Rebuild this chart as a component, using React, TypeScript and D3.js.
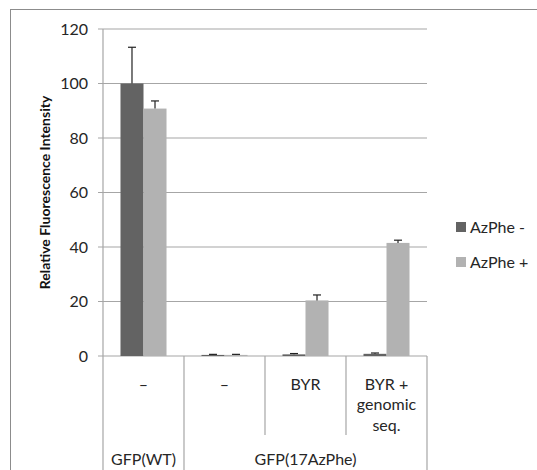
import React from 'react'
import * as d3 from 'd3'

// categories (inner level) and their groups (outer level)
const categoryLines = [['–'], ['–'], ['BYR'], ['BYR +', 'genomic', 'seq.']]
const groups = ['GFP(WT)', 'GFP(17AzPhe)']
const groupSpans = [[0, 0], [1, 3]]

const seriesNames = ['AzPhe -', 'AzPhe +']
const azpheMinus = [100, 0.4, 0.6, 0.8]
const azpheMinusErr = [13.3, 0.2, 0.3, 0.3]
const azphePlus = [90.8, 0.4, 20.4, 41.5]
const azphePlusErr = [2.8, 0.2, 2.0, 1.0]

const yTicks = [0, 20, 40, 60, 80, 100, 120]

const colors = ['#636363', '#b2b2b2']
const font = 'Lato, "Open Sans", sans-serif'

export default function App() {
  const left = 103, right = 427, top = 29, bottom = 356

  const x0 = d3.scaleBand<number>()
    .domain(d3.range(categoryLines.length))
    .range([left, right])
    .padding(0)

  const x1 = d3.scaleBand<number>()
    .domain([0, 1])
    .range([0, x0.bandwidth()])
    .paddingInner(0)
    .paddingOuter(0.76)

  const y = d3.scaleLinear().domain([0, 120]).range([bottom, top])

  const series = [
    { values: azpheMinus, errs: azpheMinusErr },
    { values: azphePlus, errs: azphePlusErr },
  ]

  const grid = '#a6a6a6'
  const textColor = '#262626'

  return (
    <svg width={537} height={470} style={{ position: 'absolute', left: 0, top: 0 }} fontFamily={font}>
      <rect x={0} y={0} width={537} height={470} fill="#fff" />
      <rect x={10.5} y={9.5} width={540} height={480} fill="none" stroke="#8c8c8c" />

      {/* gridlines + ticks */}
      {yTicks.map(t => (
        <g key={t}>
          <line x1={left - 5} x2={right} y1={y(t)} y2={y(t)} stroke={grid} strokeWidth={1.2} />
          <text x={88} y={y(t)} dy="0.35em" textAnchor="end" fontSize={16} fill={textColor}>{t}</text>
        </g>
      ))}

      {/* axis line extended through category table */}
      <line x1={left} x2={left} y1={top} y2={470} stroke={grid} strokeWidth={1.2} />
      <line x1={right} x2={right} y1={bottom} y2={470} stroke={grid} strokeWidth={1.2} />

      {/* category separators */}
      {categoryLines.map((_, i) => {
        if (i === 0) return null
        const xx = x0(i)!
        const isGroupEdge = groupSpans.some(s => s[0] === i)
        return (
          <line key={i} x1={xx} x2={xx} y1={bottom} y2={isGroupEdge ? 470 : 435}
            stroke={grid} strokeWidth={1.2} />
        )
      })}

      {/* bars */}
      {series.map((s, si) => (
        <g key={si}>
          {s.values.map((v, i) => {
            const bx = x0(i)! + x1(si)!
            const w = x1.bandwidth()
            const cx = bx + w / 2
            const ey = y(v + s.errs[i])
            return (
              <g key={i}>
                <rect x={bx} y={y(v)} width={w} height={y(0) - y(v)} fill={colors[si]} />
                <line x1={cx} x2={cx} y1={y(v)} y2={ey} stroke="#222" strokeWidth={1.2} />
                <line x1={cx - 4} x2={cx + 4} y1={ey} y2={ey} stroke="#222" strokeWidth={1.2} />
              </g>
            )
          })}
        </g>
      ))}

      {/* category labels */}
      {categoryLines.map((lines, i) => (
        <text key={i} x={x0(i)! + x0.bandwidth() / 2} y={384} textAnchor="middle"
          fontSize={16} fill={textColor}>
          {lines.map((l, li) => (
            <tspan key={li} x={x0(i)! + x0.bandwidth() / 2} y={384 + li * 20.5} dy="0.35em">{l}</tspan>
          ))}
        </text>
      ))}

      {/* group labels */}
      {groups.map((g, gi) => {
        const [a, b] = groupSpans[gi]
        const cx = (x0(a)! + x0(b)! + x0.bandwidth()) / 2
        return (
          <text key={g} x={cx} y={459} dy="0.35em" textAnchor="middle" fontSize={16} fill={textColor}>{g}</text>
        )
      })}

      {/* y axis title */}
      <text transform={`translate(45,${(top + bottom) / 2}) rotate(-90)`} textAnchor="middle"
        dy="0.35em" fontSize={14} fontWeight="bold" fill="#111">
        Relative Fluorescence Intensity
      </text>

      {/* legend */}
      {seriesNames.map((n, i) => (
        <g key={n} transform={`translate(456,${222 + i * 35})`}>
          <rect x={0} y={0} width={10} height={10} fill={colors[i]} />
          <text x={14} y={5} dy="0.35em" fontSize={16} fill={textColor}>{n}</text>
        </g>
      ))}
    </svg>
  )
}
